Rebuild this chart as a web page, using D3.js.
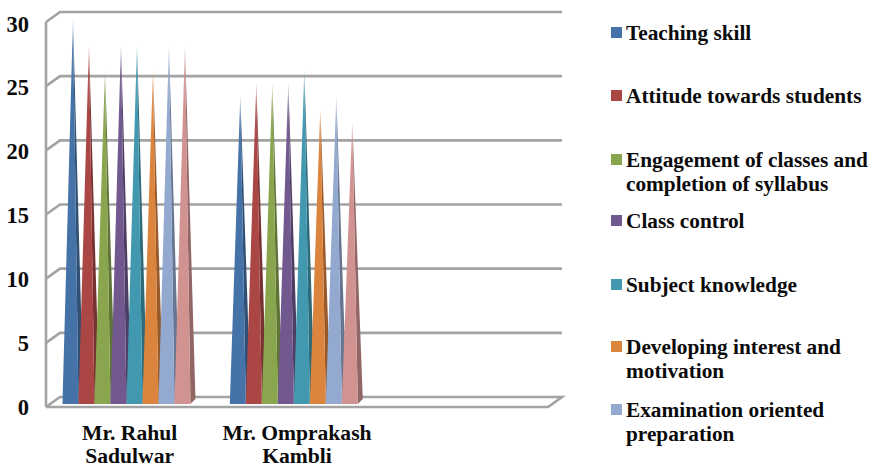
<!DOCTYPE html>
<html><head><meta charset="utf-8">
<script src="https://cdn.jsdelivr.net/npm/d3@7"></script>
<style>html,body{margin:0;padding:0;background:#fff}svg{display:block}
text{font-family:"Liberation Serif",serif;font-weight:bold;fill:#0b0b0b}</style></head>
<body><svg id="c" width="870" height="468"></svg>
<script>
const categories = ["Mr. Rahul Sadulwar", "Mr. Omprakash Kambli", ""];
const categoryLines = [["Mr. Rahul","Sadulwar"],["Mr. Omprakash","Kambli"]];
const legendLines = [["Teaching skill"],["Attitude towards students"],["Engagement of classes and","completion of syllabus"],["Class control"],["Subject knowledge"],["Developing interest and","motivation"],["Examination oriented","preparation"]];
const legendY = [33,96,160,221,285,347,410];
const teaching = [30,24];
const attitude = [28,25];
const engagement = [26,25];
const classControl = [28,25];
const subject = [28,26];
const developing = [26,23];
const examination = [28,24];
const other = [28,22];
const values = [teaching,attitude,engagement,classControl,subject,developing,examination,other];
const colors = ["#4572a7","#aa4643","#89a54e","#71588f","#4198af","#db843d","#93a9cf","#d19392"];
const darks  = ["#2f4f75","#763130","#5f7336","#4e3d63","#2d6a7a","#98592a","#667590","#916665"];
const ticks = [0,5,10,15,20,25,30];

const svg = d3.select("#c");
const dx = 14, dy = -10;
const L = 46, R = 548, B = 407, T = 22;
const x = d3.scaleBand().domain(categories).range([L,R]);
const y = d3.scaleLinear().domain([0,30]).range([B,T]);
const h = d3.scaleLinear().domain([0,30]).range([404,18]);
const tickBase = d3.scaleLinear().domain([0,30]).range([414.5,31.5]);
const sub = d3.scaleBand().domain(d3.range(8)).range([0,128]);

const defs = svg.append("defs");
colors.forEach((c,i)=>{
  [["f",c],["s",darks[i]]].forEach(([k,col])=>{
    const g = defs.append("linearGradient").attr("id",k+i).attr("x1",0).attr("x2",0).attr("y1",0).attr("y2",1);
    g.append("stop").attr("offset",0).attr("stop-color",col).attr("stop-opacity",.3);
    g.append("stop").attr("offset",.08).attr("stop-color",col).attr("stop-opacity",.9);
    g.append("stop").attr("offset",.2).attr("stop-color",col).attr("stop-opacity",1);
    g.append("stop").attr("offset",1).attr("stop-color",col).attr("stop-opacity",1);
  });
});

const grid = svg.append("g").attr("fill","none").attr("stroke","#a3a3a3").attr("stroke-width",2.6);
ticks.forEach(t=>{
  const pts = t===0
    ? [[L,y(t)],[L+dx,y(t)+dy],[R+dx,y(t)+dy],[R,y(t)],[L,y(t)]]
    : [[L,y(t)],[L+dx,y(t)+dy],[R+dx,y(t)+dy]];
  grid.append("path").attr("d",d3.line()(pts));
});
grid.append("path").attr("d",d3.line()([[L,y(0)],[L,y(30)]]));

svg.append("g").selectAll("text").data(ticks).join("text")
  .attr("x",29).attr("y",d=>tickBase(d)).attr("text-anchor","end").attr("font-size",22.5).text(d=>d);

const pad = (x.bandwidth()-sub.bandwidth()*8)/2;
categoryLines.forEach((lines,ci)=>{
  const x0 = x(categories[ci])+pad-3.2;
  const gr = svg.append("g");
  values.forEach((s,i)=>{
    const v = s[ci], a = x0+sub(i), w = sub.bandwidth(), cx = a+w/2+2.5, top = h(v), base = 404;
    gr.append("path").attr("fill",`url(#s${i})`)
      .attr("d",d3.line()([[a+w,base],[a+w+5,base-5],[cx,top]]));
    gr.append("path").attr("fill",`url(#f${i})`)
      .attr("d",d3.line()([[a,base],[a+w,base],[cx,top]]));
  });
  lines.forEach((t,k)=>svg.append("text").attr("x",x(categories[ci])+x.bandwidth()/2)
    .attr("y",439.5+k*23.5).attr("text-anchor","middle").attr("font-size",21.6).text(t));
});

const leg = svg.append("g");
legendLines.forEach((lines,i)=>{
  leg.append("rect").attr("x",611).attr("y",legendY[i]-6).attr("width",11).attr("height",11).attr("fill",colors[i]);
  lines.forEach((t,k)=>leg.append("text").attr("x",626).attr("y",legendY[i]+7+k*23.5).attr("font-size",21.3).text(t));
});
</script></body></html>
